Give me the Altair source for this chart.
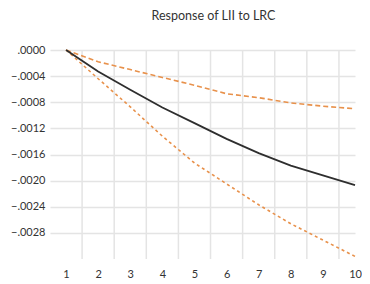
import altair as alt
import pandas as pd

periods = [1, 2, 3, 4, 5, 6, 7, 8, 9, 10]
response = [0, -0.00033, -0.00061, -0.00088, -0.00112, -0.00136, -0.00158, -0.00177, -0.00192, -0.00207]
upper_band = [0, -0.00018, -0.00030, -0.00042, -0.00054, -0.00067, -0.00073, -0.00081, -0.00086, -0.00090]
lower_band = [0, -0.00044, -0.00087, -0.00132, -0.00173, -0.00205, -0.00237, -0.00266, -0.00291, -0.00316]
y_ticks = [0, -0.0004, -0.0008, -0.0012, -0.0016, -0.0020, -0.0024, -0.0028]
x_grid = [1.5, 2.5, 3.5, 4.5, 5.5, 6.5, 7.5, 8.5, 9.5]

df = pd.DataFrame({"period": periods, "resp": response, "up": upper_band, "lo": lower_band})
grid_df = pd.DataFrame({"g": x_grid})

FONT = "Lato"
xscale = alt.Scale(domain=[0.5, 10.0], nice=False, zero=False)
yscale = alt.Scale(domain=[-0.0032, 0], nice=False, zero=False)

xaxis = alt.Axis(values=periods, format="d", grid=False, ticks=False, domain=False,
                 labelFont=FONT, labelFontSize=11, labelColor="#333333", labelPadding=9,
                 title=None, labelAngle=0, labelFlush=False)
yaxis = alt.Axis(values=y_ticks, grid=True, gridColor="#E4E4E4", gridWidth=1.5, ticks=False,
                 domain=False, labelFont=FONT, labelFontSize=11, labelColor="#333333",
                 labelPadding=5, title=None,
                 labelExpr="replace(format(datum.value, '.4f'), '0.', '.')")

vgrid = alt.Chart(grid_df).mark_rule(color="#E4E4E4", strokeWidth=1.5).encode(
    x=alt.X("g:Q", scale=xscale, axis=xaxis)
)

base = alt.Chart(df).encode(x=alt.X("period:Q", scale=xscale, axis=xaxis))

up_line = base.mark_line(color="#E8914B", strokeWidth=1.6, strokeDash=[5, 3], clip=False).encode(
    y=alt.Y("up:Q", scale=yscale, axis=yaxis))
lo_line = base.mark_line(color="#E8914B", strokeWidth=1.6, strokeDash=[3, 3], clip=False).encode(
    y=alt.Y("lo:Q", scale=yscale, axis=yaxis))
mid_line = base.mark_line(color="#2E2E2E", strokeWidth=1.8, clip=False).encode(
    y=alt.Y("resp:Q", scale=yscale, axis=yaxis))

chart = alt.layer(vgrid, up_line, lo_line, mid_line).properties(
    width=305, height=209,
    autosize=alt.AutoSizeParams(type="none"),
    padding={"left": 42, "top": 42, "right": 7, "bottom": 20},
    title=alt.TitleParams("Response of LII to LRC", font=FONT, fontSize=12.5,
                          fontWeight="normal", color="#333333", anchor="middle",
                          offset=22, dx=11),
).configure_view(stroke=None)

chart.save("out.html", embed_options={"renderer": "svg", "actions": False})
